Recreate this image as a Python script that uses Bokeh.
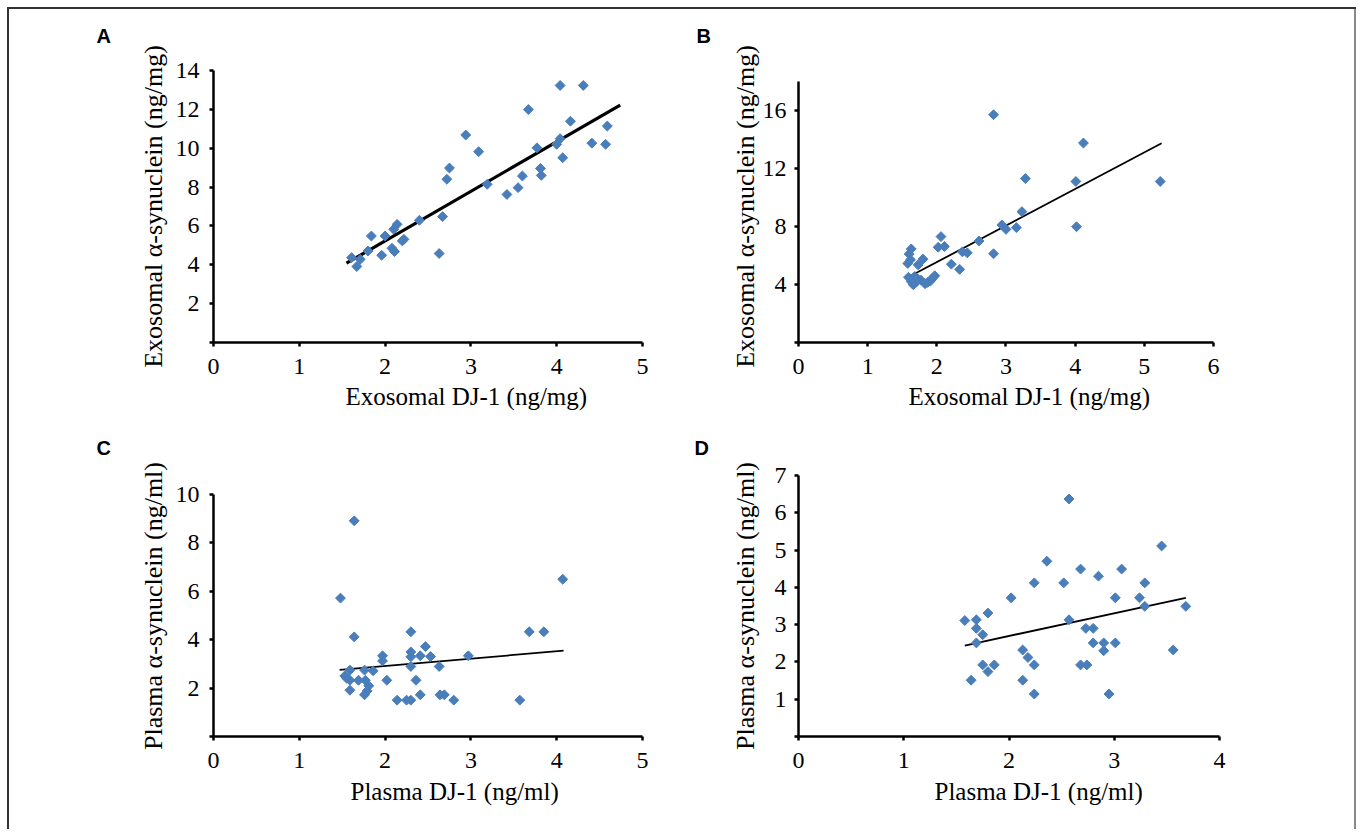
import numpy as np
from bokeh.plotting import figure
from bokeh.layouts import column, row
from bokeh.models import Range1d, FixedTicker, Title
from bokeh.embed import file_html
from bokeh.resources import INLINE

# ---------------- data ----------------
# Panel A: exosomal DJ-1 vs exosomal alpha-synuclein (ng/mg)
a_x = [1.61, 1.67, 1.71, 1.80, 1.84, 1.96, 2.00, 2.08, 2.11, 2.10, 2.14, 2.20,
       2.22, 2.40, 2.63, 2.67, 2.72, 2.75, 2.94, 3.09, 3.19, 3.42, 3.55, 3.60,
       3.67, 3.77, 3.81, 3.82, 4.00, 4.04, 4.04, 4.07, 4.16, 4.31, 4.41, 4.57, 4.59]
a_y = [4.37, 3.91, 4.28, 4.71, 5.48, 4.49, 5.48, 4.85, 4.68, 5.83, 6.08, 5.23,
       5.31, 6.29, 4.58, 6.48, 8.40, 8.98, 10.68, 9.82, 8.14, 7.62, 7.97, 8.57,
       11.99, 10.02, 8.96, 8.60, 10.20, 10.49, 13.23, 9.51, 11.39, 13.23, 10.26, 10.20, 11.14]
trend_a_x = [1.55, 4.74]
trend_a_y = [4.08, 12.22]

# Panel B: exosomal DJ-1 vs exosomal alpha-synuclein (ng/mg), second group
b_x = [1.58, 1.60, 1.63, 1.62, 1.73, 1.80, 1.59, 1.63, 1.66, 1.70, 1.72, 1.77,
       1.83, 1.87, 1.91, 1.94, 1.97, 1.68, 2.06, 2.02, 2.11, 2.21, 2.33, 2.37,
       2.44, 2.61, 2.82, 2.94, 3.00, 3.15, 3.23, 3.28, 2.82, 4.01, 4.02, 4.12, 5.23]
b_y = [5.45, 6.10, 6.45, 5.70, 5.35, 5.75, 4.50, 4.20, 3.98, 4.15, 4.40, 4.30,
       4.05, 4.15, 4.25, 4.45, 4.60, 4.55, 7.30, 6.57, 6.62, 5.40, 5.04, 6.25,
       6.18, 7.00, 6.12, 8.10, 7.80, 7.92, 9.02, 11.30, 15.70, 11.10, 7.98, 13.75, 11.10]
trend_b_x = [1.59, 5.25]
trend_b_y = [4.51, 13.73]

# Panel C: plasma DJ-1 vs plasma alpha-synuclein (ng/ml)
c_x = [1.64, 1.48, 4.07, 1.64, 2.30, 3.68, 3.85, 2.47, 1.97, 1.97, 2.30, 2.30,
       2.41, 2.53, 2.97, 2.30, 2.63, 1.59, 1.76, 1.86, 1.53, 1.55, 1.59, 1.69,
       1.77, 2.02, 2.36, 1.81, 1.59, 1.79, 1.76, 2.41, 2.64, 2.69, 2.14, 2.25,
       2.30, 2.80, 3.57]
c_y = [8.90, 5.71, 6.49, 4.11, 4.32, 4.32, 4.32, 3.71, 3.33, 3.12, 3.49, 3.29,
       3.33, 3.30, 3.33, 2.89, 2.89, 2.74, 2.74, 2.71, 2.50, 2.41, 2.32, 2.32,
       2.32, 2.32, 2.32, 2.09, 1.91, 1.88, 1.72, 1.72, 1.72, 1.72, 1.50, 1.50,
       1.50, 1.50, 1.50]
trend_c_x = [1.47, 4.08]
trend_c_y = [2.75, 3.54]

# Panel D: plasma DJ-1 vs plasma alpha-synuclein (ng/ml), second group
d_x = [2.57, 3.45, 2.36, 2.68, 3.07, 2.85, 2.24, 2.52, 3.29, 2.02, 3.01, 3.24,
       3.29, 3.68, 1.58, 1.69, 1.80, 2.57, 1.69, 1.75, 1.69, 2.73, 2.80, 2.80,
       2.90, 3.01, 2.90, 3.56, 2.13, 2.18, 2.24, 1.75, 1.86, 1.80, 2.68, 2.74,
       1.64, 2.13, 2.24, 2.95]
d_y = [6.37, 5.11, 4.70, 4.49, 4.49, 4.30, 4.12, 4.12, 4.12, 3.72, 3.72, 3.72,
       3.49, 3.49, 3.11, 3.13, 3.31, 3.13, 2.90, 2.73, 2.51, 2.90, 2.90, 2.51,
       2.51, 2.51, 2.30, 2.32, 2.32, 2.12, 1.92, 1.92, 1.92, 1.74, 1.92, 1.92,
       1.51, 1.51, 1.14, 1.14]
trend_d_x = [1.58, 3.68]
trend_d_y = [2.44, 3.72]

# axis extents (value ranges of the axes) and ticks
x_max_a, y_max_a = 5, 14
x_max_b, y_max_b = 6, 18
x_max_c, y_max_c = 5, 10
x_max_d, y_max_d = 4, 7
x_ticks_a = [0, 1, 2, 3, 4, 5]
x_ticks_b = [0, 1, 2, 3, 4, 5, 6]
x_ticks_c = [0, 1, 2, 3, 4, 5]
x_ticks_d = [0, 1, 2, 3, 4]
y_ticks_a = [0, 2, 4, 6, 8, 10, 12, 14]
y_ticks_b = [0, 4, 8, 12, 16]
y_ticks_c = [0, 2, 4, 6, 8, 10]
y_ticks_d = [0, 1, 2, 3, 4, 5, 6, 7]

label_exo_x = "Exosomal DJ-1 (ng/mg)"
label_exo_y = "Exosomal α-synuclein (ng/mg)"
label_pl_x = "Plasma DJ-1 (ng/ml)"
label_pl_y = "Plasma α-synuclein (ng/ml)"

SERIF = "Liberation Serif"
BLUE = "#4a7ebb"


def panel(letter, xs, ys, tx, ty, trend_w, xmax, ymax, view_x, view_y,
          xticks, yticks, xlabel, ylabel, w, h, mb,
          t_off, t_stand, xl_off, xl_stand, yt_stand, yl_stand):
    p = figure(width=w, height=h,
               x_range=Range1d(0, view_x), y_range=Range1d(0, view_y),
               output_backend="svg", toolbar_location=None,
               min_border_left=mb[0], min_border_right=mb[1],
               min_border_top=mb[2], min_border_bottom=mb[3])
    p.title.text = letter
    p.title.align = "left"
    p.title.vertical_align = "top"
    p.title.offset = t_off
    p.title.standoff = t_stand
    p.title.text_font = "Liberation Sans"
    p.title.text_font_size = "20px"
    p.title.text_font_style = "bold"
    p.title.text_color = "black"
    p.grid.visible = False
    p.outline_line_color = None
    p.background_fill_color = "white"
    p.border_fill_color = None

    for ax in (p.xaxis[0], p.yaxis[0]):
        ax.axis_line_width = 2.5
        ax.axis_line_color = "black"
        ax.major_tick_line_width = 2.5
        ax.major_tick_line_color = "black"
        ax.major_tick_out = 4
        ax.major_tick_in = 0
        ax.minor_tick_line_color = None
        ax.major_label_text_font = SERIF
        ax.major_label_text_font_size = "24px"
        ax.major_label_text_color = "black"

    p.xaxis.ticker = FixedTicker(ticks=xticks)
    p.xaxis.bounds = (0, xmax)
    p.xaxis.major_label_standoff = 12
    p.yaxis.ticker = FixedTicker(ticks=yticks)
    p.yaxis.bounds = (0, ymax)
    p.yaxis.major_label_overrides = {0: ""}
    p.yaxis.major_label_standoff = yt_stand
    p.yaxis.axis_label = ylabel
    p.yaxis.axis_label_text_font = SERIF
    p.yaxis.axis_label_text_font_size = "26px"
    p.yaxis.axis_label_text_font_style = "normal"
    p.yaxis.axis_label_text_color = "black"
    p.yaxis.axis_label_standoff = yl_stand

    p.line(tx, ty, line_color="black", line_width=trend_w)
    p.scatter(xs, ys, marker="square", size=7, angle=np.pi / 4,
              fill_color=BLUE, line_color=BLUE)

    p.add_layout(Title(text=xlabel, align="left", vertical_align="bottom",
                       offset=xl_off, standoff=xl_stand,
                       text_font=SERIF, text_font_size="25px",
                       text_font_style="normal", text_color="black"), "below")
    return p


# frame of row 1 spans 273 px; B's y view is extended so its 0..18 axis keeps its scale
pa = panel("A", a_x, a_y, trend_a_x, trend_a_y, 3.2, x_max_a, y_max_a, 5, 14,
           x_ticks_a, y_ticks_a, label_exo_x, label_exo_y, 680, 418, (204, 47, 66, 79),
           -117, 43, 132, 8, 10, 5)
pb = panel("B", b_x, b_y, trend_b_x, trend_b_y, 1.8, x_max_b, y_max_b, 6.087, 18.75,
           x_ticks_b, y_ticks_b, label_exo_x, label_exo_y, 665, 418, (109, 135, 66, 79),
           -102, 43, 110, 8, 8, 0)
pc = panel("C", c_x, c_y, trend_c_x, trend_c_y, 1.8, x_max_c, y_max_c, 5, 10.77,
           x_ticks_c, y_ticks_c, label_pl_x, label_pl_y, 680, 408, (204, 47, 54, 93),
           -117, 30, 137, 10, 10, 5)
pd_ = panel("D", d_x, d_y, trend_d_x, trend_d_y, 1.8, x_max_d, y_max_d, 4, 7,
            x_ticks_d, y_ticks_d, label_pl_x, label_pl_y, 665, 408, (109, 135, 54, 93),
            -104, 30, 136, 10, 8, 12)

frame_style = {
    "margin-left": "7px", "margin-top": "3px",
    "border-left": "2px solid transparent", "border-right": "2px solid transparent",
    "background-color": "white",
    "background-image": "linear-gradient(#333,#333), linear-gradient(#333,#333), linear-gradient(#888,#888)",
    "background-size": "100% 2px, 2px 100%, 2px 100%",
    "background-position": "0 4px, 0 4px, 100% 4px",
    "background-repeat": "no-repeat",
    "background-origin": "border-box",
    "background-clip": "border-box",
}
layout = column(row(pa, pb), row(pc, pd_), styles=frame_style)

open("out.html", "w").write(file_html(layout, INLINE))
